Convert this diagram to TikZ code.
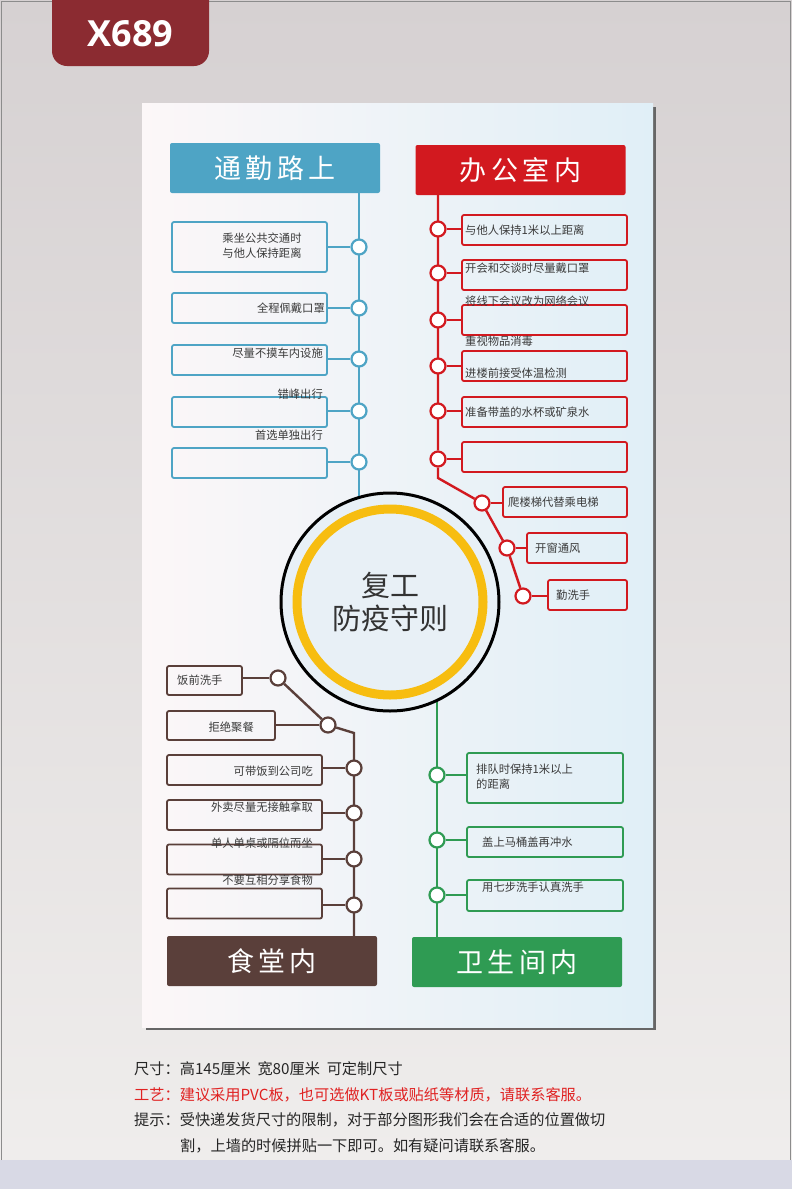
\documentclass[tikz,border=0pt]{standalone}
\usepackage{fontspec}
\usepackage{xcolor}
\usepackage{tikz}
\usetikzlibrary{positioning,calc}
\newfontfamily\cjk{Noto Sans CJK SC}
\newfontfamily\tagfont{Open Sans}

\definecolor{roadblue}{HTML}{4EA4C5}
\definecolor{officered}{HTML}{D2191F}
\definecolor{canteenbrown}{HTML}{5A3F3A}
\definecolor{wcgreen}{HTML}{2F9B53}
\definecolor{ringgold}{HTML}{F7BD10}
\definecolor{tagred}{HTML}{8B2B31}
\definecolor{ink}{HTML}{3A3A3A}
\definecolor{hubfill}{HTML}{E8F0F6}
\definecolor{notered}{HTML}{E02222}
\definecolor{walltop}{HTML}{D6D1D2}
\definecolor{wallfoot}{HTML}{EFEDEC}
\definecolor{strip}{HTML}{D8D9E5}
\definecolor{boardleft}{HTML}{FCF7F8}
\definecolor{boardright}{HTML}{E0EFF7}

\pgfdeclarelayer{back}
\pgfdeclarelayer{wire}
\pgfsetlayers{back,wire,main}

\begin{document}
\begin{tikzpicture}[x=1pt, y=-1pt,
  head/.style={fill=#1, rounded corners=2pt, minimum width=210pt, minimum height=50pt, text=white, font=\cjk\fontsize{27}{27}\selectfont},
  item/.style={draw=#1, line width=1.8pt, rounded corners=2pt, inner sep=0pt},
  dot/.style={circle, draw=#1, fill=white, line width=2.2pt, minimum size=15pt, inner sep=0pt},
  txt/.style={font=\cjk\fontsize{11.3}{15}\selectfont, text=ink, inner sep=0pt},
  link/.style={draw=#1, line width=2.4pt},
  info/.style={font=\cjk\fontsize{15.2}{18}\selectfont, text=black!85, inner sep=0pt, anchor=west}
]
  \useasboundingbox (0,0) rectangle (792,1189);

  % wall, board and shadow
  \begin{pgfonlayer}{back}
    \shade[top color=walltop, bottom color=wallfoot] (0,0) rectangle (792,1160);
    \fill[strip] (0,1160) rectangle (792,1189);
    \draw[black!45, line width=1pt] (1.5,1160) -- (1.5,1.5) -- (790.5,1.5) -- (790.5,1160);
    \fill[black!60] (146,107) rectangle (656,1030);
    \shade[left color=boardleft, right color=boardright] (142,103) rectangle (653,1027);
  \end{pgfonlayer}

  % tag
  \fill[tagred, rounded corners=15pt] (52,-30) rectangle (209,66);
  \node[text=white, font=\tagfont\bfseries\fontsize{36}{36}\selectfont] (tag) at (130.5,34) {X689};

  % headers
  \node[head=roadblue] (road) at (275,168) {通\,勤\,路\,上};
  \node[head=officered] (office) at (520.5,170) {办\,公\,室\,内};
  \node[head=canteenbrown] (canteen) at (272,961) {食\,堂\,内};
  \node[head=wcgreen] (wc) at (517,962) {卫\,生\,间\,内};

  % hub
  \node[circle, draw=black, line width=3pt, fill=hubfill, minimum size=218pt, inner sep=0pt,
        align=center, font=\cjk\fontsize{29}{33}\selectfont, text=black!80] (hub) at (390,602) {复工\\防疫守则};
  \draw[ringgold, line width=9pt] (hub.center) circle (93);

  % commute boxes
  \node[item=roadblue, minimum width=155pt, minimum height=50pt] (r1) at (249.5,247) {};
  \node[item=roadblue, minimum width=155pt, minimum height=30pt] (r2) at (249.5,308) {};
  \node[item=roadblue, minimum width=155pt, minimum height=30pt] (r3) at (249.5,360) {};
  \node[item=roadblue, minimum width=155pt, minimum height=30pt] (r4) at (249.5,412) {};
  \node[item=roadblue, minimum width=155pt, minimum height=30pt] (r5) at (249.5,463) {};
  \node[txt, align=center] (r1t) at (262,246) {乘坐公共交通时\\与他人保持距离};
  \node[txt, anchor=east] (r2t) at (325,308) {全程佩戴口罩};
  \node[txt, anchor=east] (r3t) at (323,353) {尽量不摸车内设施};
  \node[txt, anchor=east] (r4t) at (323,394) {错峰出行};
  \node[txt, anchor=east] (r5t) at (323,435) {首选单独出行};
  \node[dot=roadblue] (rp1) at (359,247) {};
  \node[dot=roadblue] (rp2) at (359,308) {};
  \node[dot=roadblue] (rp3) at (359,359) {};
  \node[dot=roadblue] (rp4) at (359,411) {};
  \node[dot=roadblue] (rp5) at (359,462) {};

  % office boxes
  \node[item=officered, minimum width=165pt, minimum height=30pt] (o1) at (544.5,230) {};
  \node[item=officered, minimum width=165pt, minimum height=30pt] (o2) at (544.5,275) {};
  \node[item=officered, minimum width=165pt, minimum height=30pt] (o3) at (544.5,320) {};
  \node[item=officered, minimum width=165pt, minimum height=30pt] (o4) at (544.5,366) {};
  \node[item=officered, minimum width=165pt, minimum height=30pt] (o5) at (544.5,412) {};
  \node[item=officered, minimum width=165pt, minimum height=30pt] (o6) at (544.5,457) {};
  \node[item=officered, minimum width=124pt, minimum height=30pt] (o7) at (565,502) {};
  \node[item=officered, minimum width=100pt, minimum height=30pt] (o8) at (577,548) {};
  \node[item=officered, minimum width=79pt, minimum height=30pt] (o9) at (587.5,595) {};
  \node[txt, anchor=west] (o1t) at (465,230) {与他人保持1米以上距离};
  \node[txt, anchor=west] (o2t) at (465,268) {开会和交谈时尽量戴口罩};
  \node[txt, anchor=west] (o3t) at (465,301) {将线下会议改为网络会议};
  \node[txt, anchor=west] (o3b) at (465,341) {重视物品消毒};
  \node[txt, anchor=west] (o4t) at (465,373) {进楼前接受体温检测};
  \node[txt, anchor=west] (o5t) at (465,412) {准备带盖的水杯或矿泉水};
  \node[txt, anchor=west] (o7t) at (508,502) {爬楼梯代替乘电梯};
  \node[txt, anchor=west] (o8t) at (535,548) {开窗通风};
  \node[txt, anchor=west] (o9t) at (556,595) {勤洗手};
  \node[dot=officered] (op1) at (438,229) {};
  \node[dot=officered] (op2) at (438,273) {};
  \node[dot=officered] (op3) at (438,320) {};
  \node[dot=officered] (op4) at (438,366) {};
  \node[dot=officered] (op5) at (438,411) {};
  \node[dot=officered] (op6) at (438,459) {};
  \node[dot=officered] (op7) at (482,503) {};
  \node[dot=officered] (op8) at (507,548) {};
  \node[dot=officered] (op9) at (523,596) {};

  % canteen boxes
  \node[item=canteenbrown, minimum width=75pt, minimum height=29pt] (c1) at (204.5,680.5) {};
  \node[item=canteenbrown, minimum width=108pt, minimum height=29pt] (c2) at (221,725.5) {};
  \node[item=canteenbrown, minimum width=155pt, minimum height=30pt] (c3) at (244.5,770) {};
  \node[item=canteenbrown, minimum width=155pt, minimum height=30pt] (c4) at (244.5,815) {};
  \node[item=canteenbrown, minimum width=155pt, minimum height=30pt] (c5) at (244.5,859.5) {};
  \node[item=canteenbrown, minimum width=155pt, minimum height=30pt] (c6) at (244.5,903.5) {};
  \node[txt, anchor=west] (c1t) at (177,680) {饭前洗手};
  \node[txt, anchor=east] (c2t) at (254,727) {拒绝聚餐};
  \node[txt, anchor=east] (c3t) at (313,771) {可带饭到公司吃};
  \node[txt, anchor=east] (c4t) at (313,807) {外卖尽量无接触拿取};
  \node[txt, anchor=east] (c5t) at (313,843) {单人单桌或隔位而坐};
  \node[txt, anchor=east] (c6t) at (313,880) {不要互相分享食物};
  \node[dot=canteenbrown] (cp1) at (278,678) {};
  \node[dot=canteenbrown] (cp2) at (328,725) {};
  \node[dot=canteenbrown] (cp3) at (354,768) {};
  \node[dot=canteenbrown] (cp4) at (354,813) {};
  \node[dot=canteenbrown] (cp5) at (354,859) {};
  \node[dot=canteenbrown] (cp6) at (354,905) {};

  % washroom boxes
  \node[item=wcgreen, minimum width=156pt, minimum height=50pt] (w1) at (545,778) {};
  \node[item=wcgreen, minimum width=156pt, minimum height=30pt] (w2) at (545,842) {};
  \node[item=wcgreen, minimum width=156pt, minimum height=31pt] (w3) at (545,895.5) {};
  \node[txt, anchor=west, align=left] (w1t) at (476,777) {排队时保持1米以上\\的距离};
  \node[txt, anchor=west] (w2t) at (482,842) {盖上马桶盖再冲水};
  \node[txt, anchor=west] (w3t) at (482,887) {用七步洗手认真洗手};
  \node[dot=wcgreen] (wp1) at (437,775) {};
  \node[dot=wcgreen] (wp2) at (437,840) {};
  \node[dot=wcgreen] (wp3) at (437,895) {};

  % connectors
  \begin{pgfonlayer}{wire}
    \draw[link=roadblue] (road.south -| rp1) -- (rp1 |- hub.center);
    \draw[link=roadblue] (rp1) -- (rp1 -| r1.east);
    \draw[link=roadblue] (rp2) -- (rp2 -| r2.east);
    \draw[link=roadblue] (rp3) -- (rp3 -| r3.east);
    \draw[link=roadblue] (rp4) -- (rp4 -| r4.east);
    \draw[link=roadblue] (rp5) -- (rp5 -| r5.east);

    \draw[link=officered] (office.south -| op1) -- (op6) -- ++(0,19) -- (op7) -- (op8) -- (op9);
    \draw[link=officered] (op1) -- (op1 -| o1.west);
    \draw[link=officered] (op2) -- (op2 -| o2.west);
    \draw[link=officered] (op3) -- (op3 -| o3.west);
    \draw[link=officered] (op4) -- (op4 -| o4.west);
    \draw[link=officered] (op5) -- (op5 -| o5.west);
    \draw[link=officered] (op6) -- (op6 -| o6.west);
    \draw[link=officered] (op7) -- (op7 -| o7.west);
    \draw[link=officered] (op8) -- (op8 -| o8.west);
    \draw[link=officered] (op9) -- (op9 -| o9.west);

    \draw[link=canteenbrown] (cp1) -- (cp2) -- ([yshift=-8pt]cp2 -| cp3) -- (canteen.north -| cp3);
    \draw[link=canteenbrown] (cp1) -- (cp1 -| c1.east);
    \draw[link=canteenbrown] (cp2) -- (cp2 -| c2.east);
    \draw[link=canteenbrown] (cp3) -- (cp3 -| c3.east);
    \draw[link=canteenbrown] (cp4) -- (cp4 -| c4.east);
    \draw[link=canteenbrown] (cp5) -- (cp5 -| c5.east);
    \draw[link=canteenbrown] (cp6) -- (cp6 -| c6.east);

    \draw[link=wcgreen] (hub.center -| wp1) -- (wc.north -| wp1);
    \draw[link=wcgreen] (wp1) -- (wp1 -| w1.west);
    \draw[link=wcgreen] (wp2) -- (wp2 -| w2.west);
    \draw[link=wcgreen] (wp3) -- (wp3 -| w3.west);
  \end{pgfonlayer}

  % notes under the board
  \node[info] (size) at (134,1069) {尺寸：高145厘米\ \ 宽80厘米\ \ 可定制尺寸};
  \node[info, text=notered] (craft) at (134,1095) {工艺：建议采用PVC板，也可选做KT板或贴纸等材质，请联系客服。};
  \node[info] (tip) at (134,1120) {提示：受快递发货尺寸的限制，对于部分图形我们会在合适的位置做切};
  \node[info] (tip2) at (180,1146) {割，上墙的时候拼贴一下即可。如有疑问请联系客服。};
\end{tikzpicture}
\end{document}
